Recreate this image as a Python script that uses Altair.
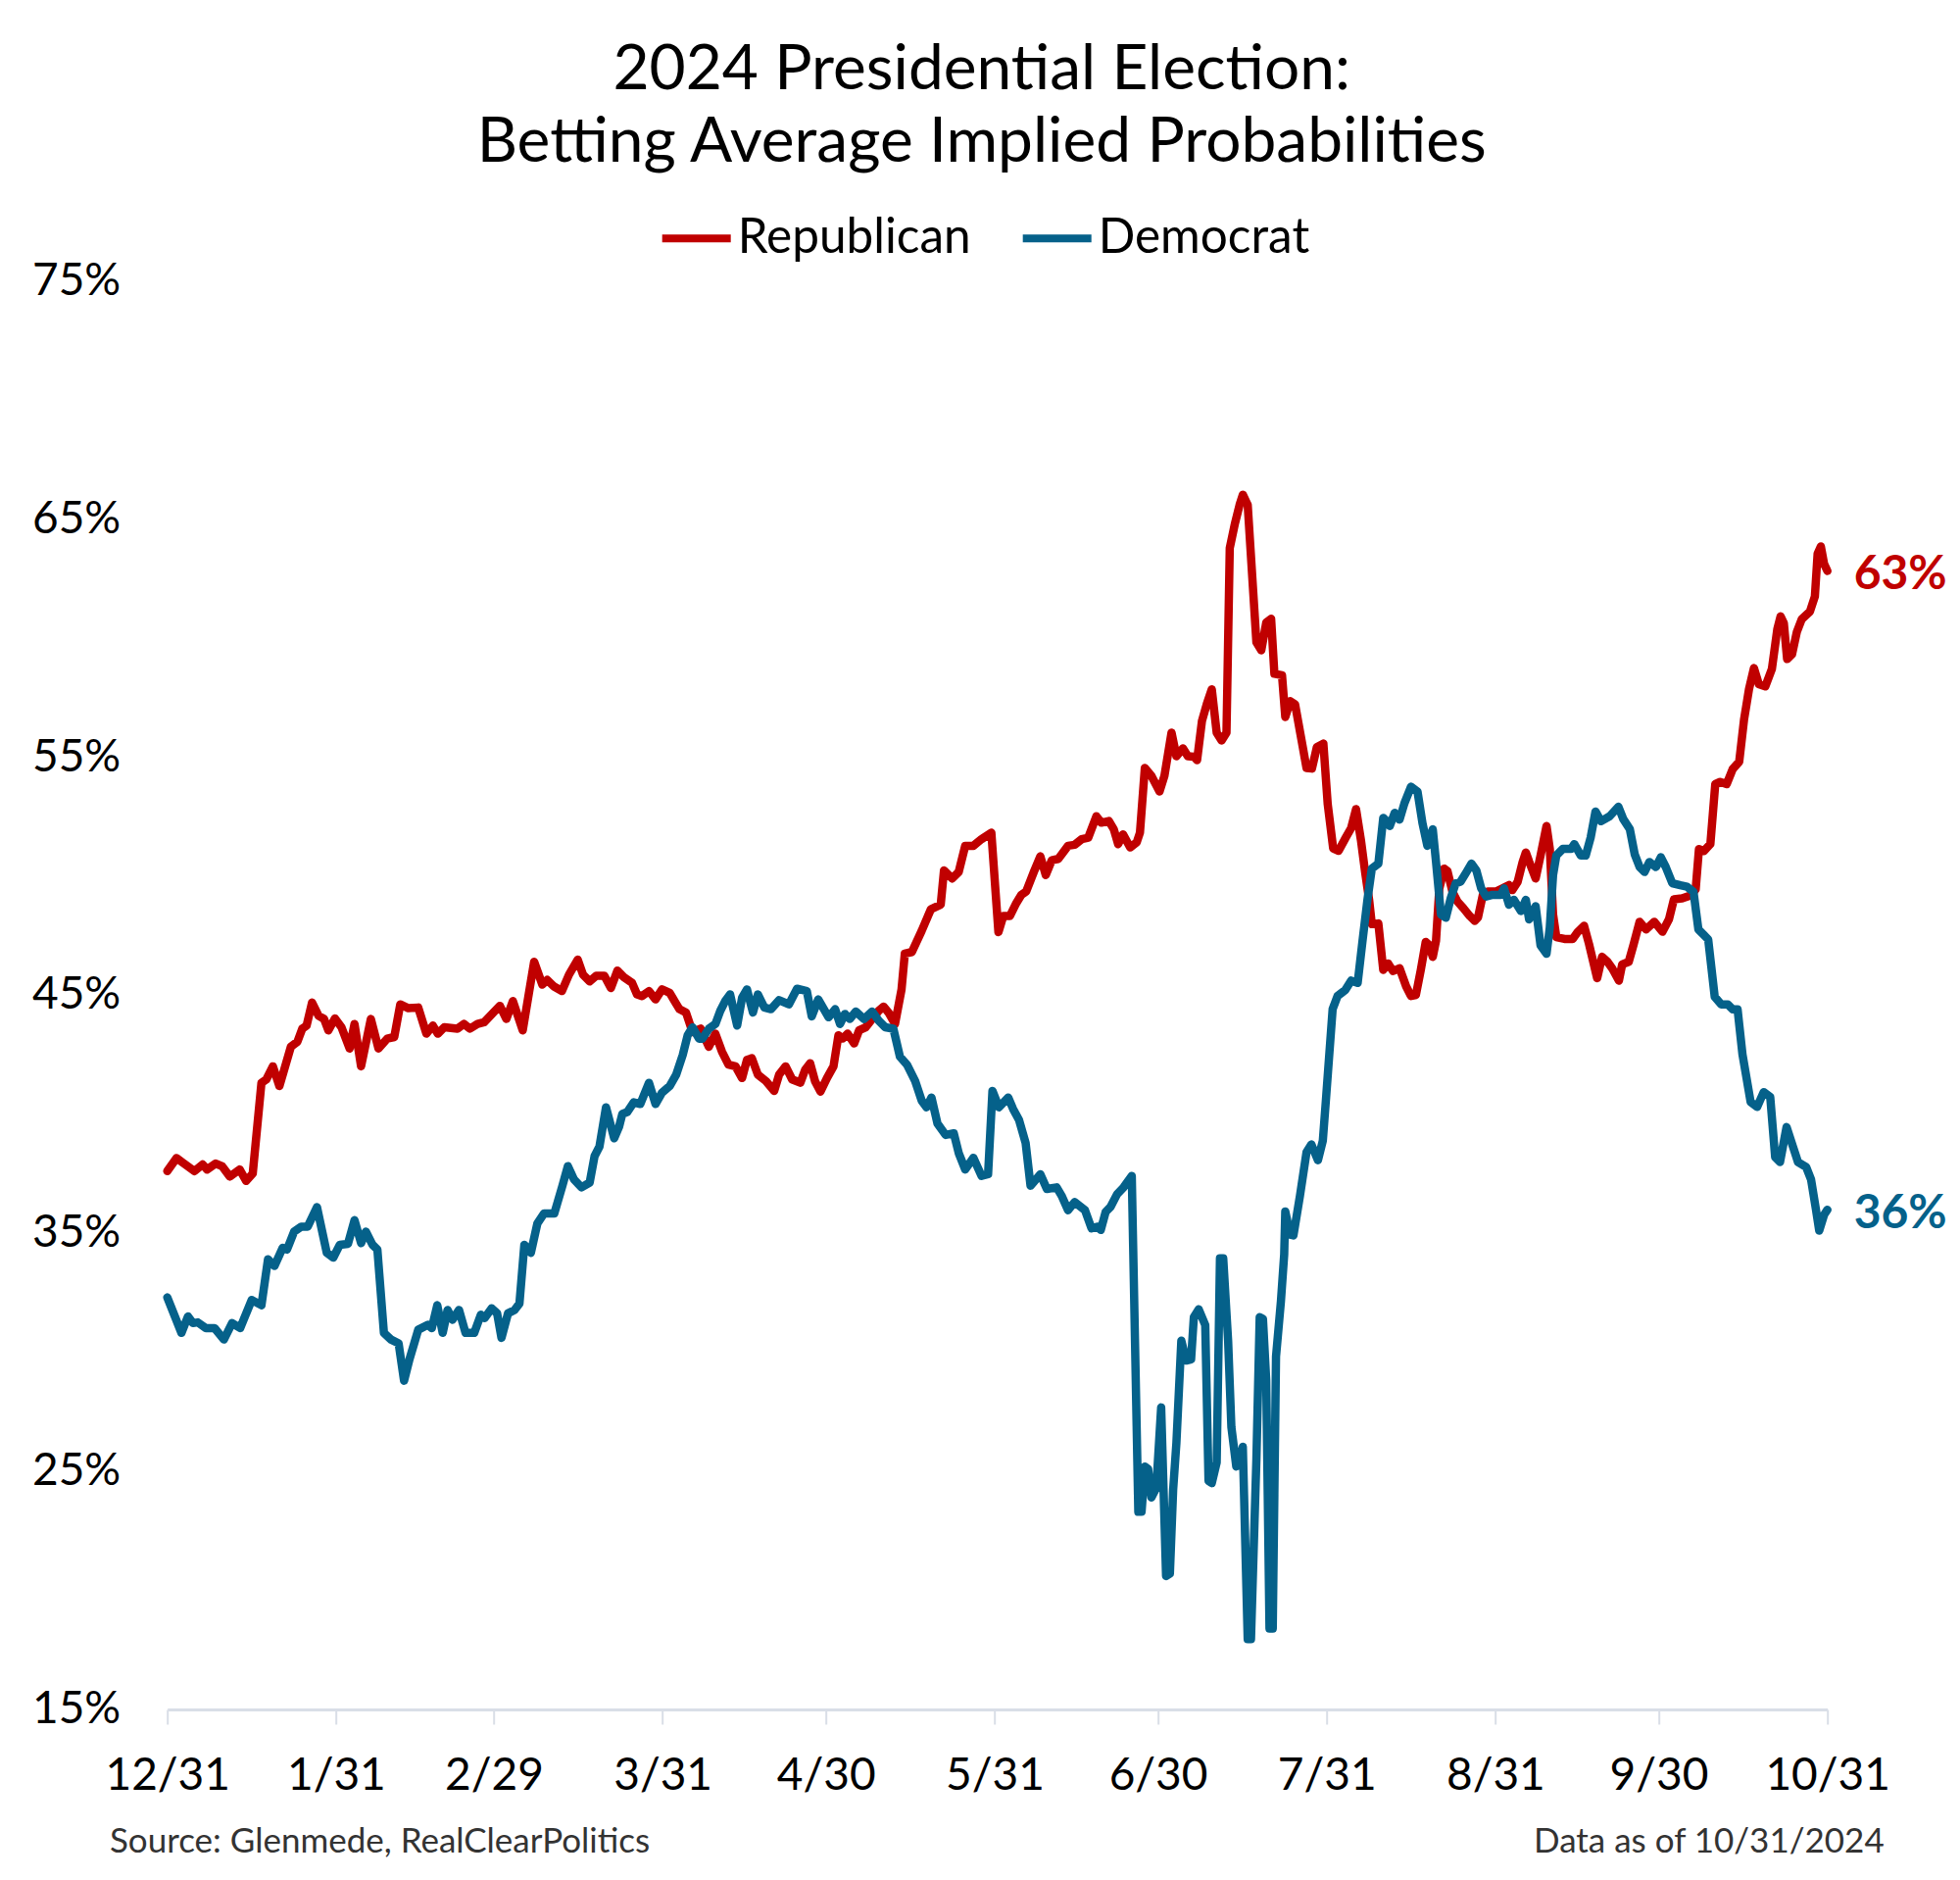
import altair as alt
import pandas as pd

# ---------------- data (day index from 12/31/2023, implied probability %) ----------------
TITLE = ["2024 Presidential Election:", "Betting Average Implied Probabilities"]
SERIES = ["Republican", "Democrat"]
COLORS = ["#C00000", "#05618A"]
TICK_DAYS = [0, 31, 60, 91, 121, 152, 182, 213, 244, 274, 305]
TICK_LABELS = ["12/31", "1/31", "2/29", "3/31", "4/30", "5/31", "6/30", "7/31", "8/31", "9/30", "10/31"]
Y_TICKS = [15, 25, 35, 45, 55, 65, 75]
END_LABELS = ["63%", "36%"]
SOURCE = "Source: Glenmede, RealClearPolitics"
ASOF = "Data as of 10/31/2024"

republican = [
    (0, 37.6), (1.7, 38.15), (2.9, 37.95), (5.0, 37.6), (6.5, 37.88), (7.3, 37.67), (8.9, 37.92),
    (10.1, 37.8), (11.5, 37.37), (13.3, 37.67), (14.5, 37.19), (15.7, 37.5), (17.3, 41.31),
    (18.2, 41.45), (19.4, 42.0), (20.6, 41.17), (22.7, 42.82), (23.9, 43.03), (24.8, 43.58),
    (25.6, 43.71), (26.6, 44.68), (27.8, 44.12), (28.8, 43.99), (29.6, 43.51), (30.8, 44.01),
    (32.0, 43.64), (33.5, 42.75), (34.4, 43.78), (35.6, 42.0), (37.4, 43.99), (38.8, 42.75),
    (40.4, 43.16), (41.7, 43.23), (42.8, 44.6), (44.3, 44.44), (46.1, 44.47), (47.6, 43.37),
    (48.8, 43.71), (49.7, 43.37), (50.9, 43.64), (53.3, 43.58), (54.5, 43.78), (55.6, 43.58),
    (57.0, 43.78), (58.2, 43.85), (61.1, 44.54), (62.3, 43.99), (63.5, 44.74), (65.3, 43.51),
    (67.4, 46.39), (68.9, 45.43), (69.8, 45.63), (71.0, 45.36), (72.5, 45.16), (73.8, 45.85),
    (75.4, 46.48), (76.4, 45.84), (77.6, 45.57), (78.8, 45.8), (80.3, 45.8), (81.5, 45.29),
    (82.7, 46.02), (83.9, 45.74), (85.4, 45.5), (86.3, 45.02), (87.2, 44.95), (88.5, 45.16),
    (89.7, 44.81), (90.9, 45.23), (92.3, 45.09), (93.2, 44.74), (94.1, 44.4), (95.3, 44.26),
    (96.5, 43.44), (98.0, 43.58), (99.5, 42.82), (100.7, 43.37), (101.9, 42.62), (103.1, 42.07),
    (104.4, 42.0), (105.6, 41.51), (106.5, 42.27), (107.4, 42.34), (108.5, 41.65), (110.0, 41.38),
    (111.5, 40.97), (112.4, 41.65), (113.6, 42.0), (114.8, 41.45), (116.3, 41.31), (117.2, 41.86),
    (118.1, 42.13), (119.0, 41.38), (120.0, 40.94), (121.2, 41.51), (122.4, 42.0), (123.3, 43.3),
    (124.1, 43.17), (125.0, 43.37), (126.2, 42.96), (127.1, 43.51), (128.3, 43.64), (129.5, 43.99),
    (130.7, 44.33), (131.6, 44.51), (132.5, 44.26), (133.7, 43.78), (134.9, 45.23), (135.5, 46.73),
    (136.8, 46.8), (138.6, 47.69), (140.3, 48.6), (142.1, 48.79), (142.7, 50.23), (144.2, 49.89),
    (145.4, 50.16), (146.6, 51.26), (148.1, 51.26), (149.6, 51.54), (151.4, 51.81), (152.7, 47.63),
    (153.6, 48.31), (154.8, 48.31), (156.0, 48.86), (156.9, 49.2), (157.8, 49.34), (159.2, 50.16),
    (160.4, 50.82), (161.4, 50.03), (162.5, 50.65), (163.7, 50.71), (165.5, 51.26), (166.7, 51.3),
    (168.0, 51.54), (169.2, 51.6), (170.7, 52.5), (171.6, 52.23), (173.0, 52.3), (173.9, 51.95),
    (174.7, 51.33), (175.6, 51.74), (176.9, 51.19), (178.1, 51.4), (178.7, 51.81), (179.6, 54.53),
    (180.8, 54.2), (182.3, 53.54), (183.2, 54.2), (184.5, 56.01), (185.4, 55.02), (186.6, 55.35),
    (187.5, 55.02), (188.6, 55.0), (189.2, 54.86), (190.1, 56.51), (191.0, 57.23), (191.9, 57.83),
    (192.8, 56.01), (193.7, 55.68), (194.6, 56.01), (195.2, 63.76), (196.1, 64.74), (197.0, 65.57),
    (197.6, 66.0), (198.5, 65.57), (200.1, 59.8), (201.0, 59.47), (201.9, 60.63), (202.8, 60.79),
    (203.4, 58.48), (204.8, 58.42), (205.4, 56.67), (206.3, 57.33), (207.2, 57.2), (208.4, 55.68),
    (209.3, 54.53), (210.3, 54.5), (211.2, 55.4), (212.4, 55.55), (213.2, 53.0), (214.2, 51.15),
    (215.2, 51.05), (216.5, 51.6), (217.5, 52.0), (218.4, 52.8), (219.3, 51.5), (220.1, 50.1),
    (220.8, 49.0), (221.3, 47.97), (222.5, 48.0), (223.4, 46.05), (224.3, 46.32), (225.2, 46.0),
    (226.4, 46.12), (227.6, 45.36), (228.5, 44.95), (229.4, 45.0), (230.3, 46.05), (231.2, 47.22),
    (231.8, 47.1), (232.5, 46.6), (233.1, 47.28), (233.7, 49.47), (234.6, 50.3), (235.2, 50.2),
    (236.1, 49.34), (237.0, 48.93), (238.1, 48.65), (239.3, 48.31), (240.2, 48.11), (240.8, 48.25),
    (241.7, 49.2), (242.6, 49.34), (244.1, 49.34), (245.3, 49.47), (246.5, 49.61), (247.1, 49.4),
    (248.1, 49.75), (249.0, 50.57), (249.6, 50.98), (250.2, 50.6), (251.4, 49.89), (252.3, 50.85),
    (253.4, 52.09), (254.0, 51.13), (254.6, 48.38), (255.2, 47.42), (256.7, 47.35), (258.2, 47.35),
    (259.1, 47.63), (260.3, 47.9), (261.2, 47.14), (262.7, 45.7), (263.6, 46.6), (264.6, 46.39),
    (265.5, 46.1), (266.7, 45.6), (267.3, 46.28), (268.5, 46.39), (269.4, 47.12), (270.5, 48.07),
    (271.7, 47.75), (273.2, 48.07), (274.7, 47.65), (275.9, 48.18), (276.8, 49.01), (278.3, 49.05),
    (279.9, 49.18), (280.8, 49.43), (281.4, 51.12), (282.3, 51.04), (283.5, 51.33), (284.4, 53.85),
    (285.3, 53.94), (286.5, 53.85), (287.6, 54.48), (288.8, 54.79), (289.7, 56.58), (290.6, 57.84),
    (291.5, 58.72), (292.4, 58.05), (293.6, 57.95), (294.8, 58.68), (295.8, 60.36), (296.4, 60.89),
    (297.0, 60.6), (297.6, 59.1), (298.5, 59.3), (299.4, 60.25), (300.3, 60.78), (301.8, 61.1),
    (302.7, 61.73), (303.2, 63.52), (303.8, 63.83), (304.4, 63.09), (305.0, 62.8),
]

democrat = [
    (0, 32.3), (1.4, 31.5), (2.6, 30.81), (3.8, 31.5), (4.7, 31.22), (5.6, 31.25), (7.1, 31.01),
    (8.7, 31.01), (10.4, 30.53), (11.9, 31.22), (13.4, 31.01), (15.5, 32.19), (17.3, 31.97),
    (18.5, 33.9), (19.7, 33.62), (21.2, 34.38), (22.0, 34.31), (23.3, 35.06), (24.6, 35.27),
    (25.8, 35.27), (27.5, 36.09), (29.3, 34.17), (30.5, 33.97), (31.7, 34.51), (33.2, 34.55),
    (34.4, 35.54), (35.6, 34.58), (36.5, 35.06), (37.7, 34.51), (38.6, 34.31), (39.8, 30.81),
    (41.1, 30.53), (42.5, 30.37), (43.5, 28.8), (44.5, 29.7), (45.5, 30.47), (46.1, 30.94),
    (47.9, 31.15), (48.6, 31.01), (49.6, 31.97), (50.6, 30.81), (51.5, 31.77), (52.4, 31.36),
    (53.6, 31.77), (54.8, 30.81), (56.4, 30.81), (57.6, 31.57), (58.3, 31.43), (59.6, 31.84),
    (60.6, 31.63), (61.4, 30.6), (62.6, 31.63), (63.8, 31.77), (64.7, 32.04), (65.6, 34.51),
    (66.8, 34.17), (68.0, 35.41), (69.2, 35.82), (71.1, 35.82), (72.6, 36.99), (73.6, 37.81),
    (74.7, 37.26), (76.1, 36.92), (77.6, 37.12), (78.5, 38.23), (79.4, 38.63), (80.6, 40.28),
    (82.1, 38.98), (83.0, 39.46), (83.6, 40.0), (84.5, 40.08), (85.7, 40.49), (86.9, 40.42),
    (88.5, 41.31), (89.7, 40.42), (90.9, 40.9), (92.3, 41.17), (93.5, 41.65), (94.7, 42.48),
    (95.6, 43.3), (96.5, 43.64), (97.7, 43.16), (98.3, 43.16), (99.5, 43.58), (100.7, 43.78),
    (101.6, 44.33), (102.5, 44.74), (103.4, 45.02), (104.7, 43.71), (105.6, 44.88), (106.5, 45.23),
    (107.6, 44.26), (108.5, 45.02), (109.7, 44.47), (110.9, 44.4), (112.4, 44.78), (114.2, 44.6),
    (115.7, 45.26), (117.5, 45.16), (118.4, 44.1), (119.6, 44.81), (121.5, 44.06), (122.7, 44.4),
    (123.6, 43.78), (124.5, 44.2), (125.4, 43.99), (126.5, 44.3), (128.0, 43.99), (129.5, 44.3),
    (130.7, 43.92), (131.9, 43.64), (133.4, 43.58), (134.6, 42.41), (135.9, 42.07), (137.4, 41.38),
    (138.6, 40.56), (139.5, 40.28), (140.4, 40.69), (141.5, 39.6), (143.0, 39.12), (144.5, 39.19),
    (145.4, 38.36), (146.6, 37.67), (148.1, 38.16), (149.6, 37.4), (150.8, 37.47), (151.6, 40.97),
    (152.8, 40.28), (154.5, 40.69), (155.4, 40.21), (156.5, 39.74), (157.7, 38.78), (158.6, 36.99),
    (160.4, 37.47), (161.6, 36.85), (163.4, 36.92), (164.3, 36.57), (165.5, 35.96), (166.7, 36.3),
    (168.6, 35.96), (169.8, 35.2), (171.0, 35.27), (171.5, 35.13), (172.4, 35.89), (173.3, 36.1),
    (174.5, 36.63), (175.7, 36.92), (177.2, 37.4), (178.4, 23.3), (179.0, 23.3), (179.6, 25.2),
    (180.2, 25.1), (180.8, 23.9), (181.7, 24.3), (182.6, 27.68), (183.5, 20.6), (184.2, 20.7),
    (184.8, 24.22), (185.4, 26.2), (186.3, 30.48), (187.2, 29.65), (188.1, 29.7), (188.6, 31.47),
    (189.5, 31.8), (190.7, 31.14), (191.3, 24.6), (191.9, 24.5), (192.8, 25.37), (193.4, 33.94),
    (194.0, 33.94), (194.9, 30.48), (195.5, 26.85), (196.4, 25.2), (197.6, 26.03), (198.5, 17.95),
    (199.1, 17.95), (200.1, 25.53), (200.7, 31.47), (201.3, 31.4), (201.9, 28.83), (202.5, 18.4),
    (203.1, 18.4), (203.7, 29.82), (204.6, 32.13), (205.2, 34.1), (205.4, 35.91), (206.3, 34.93),
    (206.9, 34.9), (208.1, 36.57), (209.3, 38.39), (210.2, 38.72), (211.4, 38.06), (212.3, 38.88),
    (212.9, 40.69), (214.1, 44.4), (215.0, 44.95), (216.4, 45.2), (217.5, 45.6), (218.7, 45.5),
    (219.6, 47.28), (220.5, 49.0), (221.3, 50.3), (222.5, 50.51), (223.4, 52.43), (224.0, 52.3),
    (224.6, 52.09), (225.5, 52.64), (226.4, 52.36), (227.3, 53.05), (228.5, 53.74), (229.7, 53.53),
    (230.6, 52.22), (231.5, 51.26), (232.5, 51.95), (233.1, 50.57), (234.0, 48.38), (234.9, 48.24),
    (235.8, 49.06), (236.7, 49.68), (237.6, 49.75), (238.7, 50.16), (239.6, 50.51), (240.5, 50.23),
    (241.4, 49.47), (242.3, 49.13), (243.5, 49.2), (245.0, 49.2), (245.6, 49.47), (246.5, 48.79),
    (247.4, 48.99), (248.7, 48.52), (249.6, 48.99), (250.2, 48.17), (251.4, 48.72), (252.3, 47.08),
    (253.4, 46.73), (254.0, 47.83), (254.6, 50.03), (255.2, 50.85), (256.4, 51.13), (257.9, 51.13),
    (258.5, 51.33), (259.7, 50.85), (260.6, 50.85), (261.5, 51.6), (262.4, 52.7), (263.4, 52.29),
    (265.0, 52.5), (266.6, 52.9), (267.5, 52.38), (268.7, 51.96), (269.6, 50.9), (270.5, 50.37),
    (271.4, 50.16), (272.3, 50.58), (273.5, 50.37), (274.4, 50.78), (275.3, 50.37), (276.5, 49.69),
    (278.0, 49.6), (279.2, 49.54), (280.4, 49.33), (281.3, 47.75), (282.2, 47.54), (283.1, 47.33),
    (284.3, 44.92), (285.5, 44.6), (286.7, 44.6), (287.6, 44.39), (288.5, 44.39), (289.4, 42.5),
    (290.9, 40.5), (292.1, 40.3), (293.3, 40.92), (294.5, 40.71), (295.4, 38.19), (296.3, 37.98),
    (297.5, 39.45), (298.7, 38.61), (299.6, 37.98), (301.1, 37.77), (302.0, 37.25), (302.9, 35.98),
    (303.5, 35.1), (304.4, 35.77), (305.0, 35.98),
]

# ---------------- tables ----------------
rows = []
for name, series in zip(SERIES, [republican, democrat]):
    for d, v in series:
        rows.append({"day": d, "prob": v, "party": name})
df = pd.DataFrame(rows)

end_df = pd.DataFrame({
    "day": [republican[-1][0], democrat[-1][0]],
    "prob": [republican[-1][1], democrat[-1][1]],
    "party": SERIES,
    "label": END_LABELS,
})

AXIS_COLOR = "#D9DEE7"
FONT = "Lato"

label_expr = "".join(
    f"datum.value == {d} ? '{l}' : " for d, l in zip(TICK_DAYS, TICK_LABELS)
) + "''"

xscale = alt.Scale(domain=[TICK_DAYS[0], TICK_DAYS[-1]], nice=False, zero=False)
yscale = alt.Scale(domain=[Y_TICKS[0], Y_TICKS[-1]], nice=False, zero=False)
cscale = alt.Scale(domain=SERIES, range=COLORS)

x_enc = alt.X(
    "day:Q", scale=xscale,
    axis=alt.Axis(
        values=TICK_DAYS, labelExpr=label_expr, title=None, grid=False,
        domainColor=AXIS_COLOR, domainWidth=3, tickColor=AXIS_COLOR, tickWidth=2,
        tickSize=15, labelFontSize=46, labelPadding=31, labelColor="black",
        labelFont=FONT, labelFlush=False, labelOverlap=False, labelBound=False,
    ),
)
y_enc = alt.Y(
    "prob:Q", scale=yscale,
    axis=alt.Axis(
        values=Y_TICKS, labelExpr="datum.value + '%'", title=None, grid=False,
        domain=False, ticks=False, tickSize=0, labelFontSize=46, labelPadding=48,
        labelColor="black", labelFont=FONT, labelOverlap=False, labelBound=False,
        labelFlush=False,
    ),
)

lines = alt.Chart(df).mark_line(
    strokeWidth=8.5, strokeCap="round", strokeJoin="round"
).encode(
    x=x_enc,
    y=y_enc,
    color=alt.Color(
        "party:N", scale=cscale,
        legend=alt.Legend(
            title=None, orient="none", direction="horizontal",
            legendX=501, legendY=-82, symbolType="stroke", symbolSize=4900,
            symbolStrokeWidth=8, labelFontSize=49.5, labelFont=FONT, labelColor="black",
            labelOffset=3, columnPadding=36, padding=0, labelLimit=600,
        ),
    ),
    order="day:Q",
)

ends = alt.Chart(end_df).mark_text(
    align="left", baseline="middle", dx=27, dy=5, fontSize=48, fontWeight="bold", font=FONT
).encode(
    x=alt.X("day:Q", scale=xscale),
    y=alt.Y("prob:Q", scale=yscale),
    text="label:N",
    color=alt.Color("party:N", scale=cscale, legend=None),
)

src = alt.Chart(pd.DataFrame({"t": [SOURCE]})).mark_text(
    align="left", baseline="alphabetic", fontSize=35, font=FONT, color="#333333"
).encode(x=alt.value(-58.7), y=alt.value(1604), text="t:N")

asof = alt.Chart(pd.DataFrame({"t": [ASOF]})).mark_text(
    align="right", baseline="alphabetic", fontSize=35, font=FONT, color="#333333"
).encode(x=alt.value(1752), y=alt.value(1604), text="t:N")

chart = alt.layer(lines, ends, src, asof).properties(
    width=1694,
    height=1458,
    title=alt.Title(
        text=TITLE, fontSize=64, font=FONT, fontWeight="normal", color="black",
        anchor="middle", frame="group", dx=-16, offset=26, lineHeight=74,
    ),
    padding={"left": 162.7, "top": 278, "right": 127, "bottom": 160},
    autosize=alt.AutoSizeParams(type="none"),
).configure(font=FONT, background="white").configure_view(stroke=None)

chart.save("out.html", embed_options={"renderer": "svg", "actions": False})
